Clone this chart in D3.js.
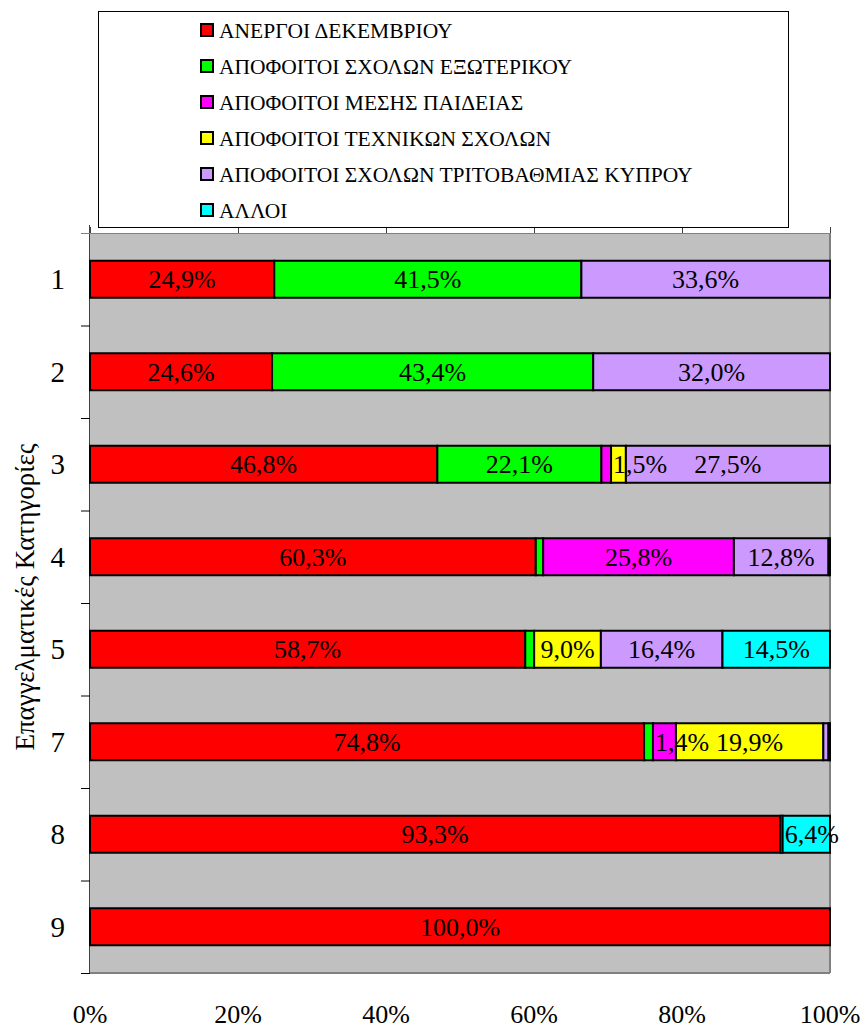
<!DOCTYPE html>
<html>
<head>
<meta charset="utf-8">
<script src="https://cdn.jsdelivr.net/npm/d3@7"></script>
<style>
  body { margin: 0; background: #fff; }
  text { font-family: "Liberation Serif", "Times New Roman", serif; fill: #000; }
</style>
</head>
<body>
<div id="chart"></div>
<script>
// categories (occupational groups) and series values, percent of row
var categories = ["1", "2", "3", "4", "5", "7", "8", "9"];
var seriesNames = [
  "ΑΝΕΡΓΟΙ ΔΕΚΕΜΒΡΙΟΥ",
  "ΑΠΟΦΟΙΤΟΙ ΣΧΟΛΩΝ ΕΞΩΤΕΡΙΚΟΥ",
  "ΑΠΟΦΟΙΤΟΙ ΜΕΣΗΣ ΠΑΙΔΕΙΑΣ",
  "ΑΠΟΦΟΙΤΟΙ ΤΕΧΝΙΚΩΝ ΣΧΟΛΩΝ",
  "ΑΠΟΦΟΙΤΟΙ ΣΧΟΛΩΝ ΤΡΙΤΟΒΑΘΜΙΑΣ ΚΥΠΡΟΥ",
  "ΑΛΛΟΙ"
];
var seriesColors = ["#FF0000", "#00FF00", "#FF00FF", "#FFFF00", "#CC99FF", "#00FFFF"];

var anergoi       = [24.9, 24.6, 46.8, 60.3, 58.7, 74.8, 93.3, 100.0];
var exoterikou    = [41.5, 43.4, 22.1, 1.0, 1.2, 1.2, 0, 0];
var mesis         = [0, 0, 1.3, 25.8, 0, 3.1, 0, 0];
var texnikon      = [0, 0, 2.0, 0, 9.0, 19.9, 0, 0];
var tritovathmias = [33.6, 32.0, 27.5, 12.8, 16.4, 0.7, 0.3, 0];
var alloi         = [0, 0, 0, 0.2, 14.5, 0.2, 6.4, 0];

// data labels as printed on the bars ("" = no label)
var labelsAnergoi       = ["24,9%", "24,6%", "46,8%", "60,3%", "58,7%", "74,8%", "93,3%", "100,0%"];
var labelsExoterikou    = ["41,5%", "43,4%", "22,1%", "", "", "", "", ""];
var labelsMesis         = ["", "", "", "25,8%", "", "1,4%", "", ""];
var labelsTexnikon      = ["", "", "1,5%", "", "9,0%", "19,9%", "", ""];
var labelsTritovathmias = ["33,6%", "32,0%", "27,5%", "12,8%", "16,4%", "", "", ""];
var labelsAlloi         = ["", "", "", "", "14,5%", "", "6,4%", ""];

var xTicks = [0, 20, 40, 60, 80, 100];

var allSeries = [anergoi, exoterikou, mesis, texnikon, tritovathmias, alloi];
var allLabels = [labelsAnergoi, labelsExoterikou, labelsMesis, labelsTexnikon, labelsTritovathmias, labelsAlloi];

var svgWidth = 866;
var svgHeight = 1030;
var margin = { top: 233, right: 36, bottom: 57, left: 90 };
var chartWidth = svgWidth - margin.left - margin.right;   // 740
var chartHeight = svgHeight - margin.top - margin.bottom; // 740

var svg = d3.select("#chart")
  .append("svg")
  .attr("width", svgWidth)
  .attr("height", svgHeight);

// build the stacked rows, normalised to 100%
var rows = categories.map(function(cat, i) {
  var total = d3.sum(allSeries, s => s[i]);
  var acc = 0;
  var segs = [];
  allSeries.forEach(function(s, j) {
    var v = s[i] / total * 100;
    segs.push({ series: j, x0: acc, x1: acc + v, value: s[i], label: allLabels[j][i] });
    acc += v;
  });
  return { cat: cat, segs: segs };
});

var x = d3.scaleLinear().domain([0, 100]).range([0, chartWidth]);
var y = d3.scaleBand().domain(categories).range([0, chartHeight]).paddingInner(0.6).paddingOuter(0.3);
var yBand = d3.scaleBand().domain(categories).range([0, chartHeight]);

var chartGroup = svg.append("g")
  .attr("transform", `translate(${margin.left}, ${margin.top})`);

// plot area
chartGroup.append("rect")
  .attr("x", 0).attr("y", 0)
  .attr("width", chartWidth).attr("height", chartHeight)
  .attr("fill", "#C0C0C0");

chartGroup.append("line")
  .attr("x1", chartWidth).attr("x2", chartWidth)
  .attr("y1", 0).attr("y2", chartHeight)
  .attr("stroke", "#808080").attr("stroke-width", 2);
chartGroup.append("line")
  .attr("x1", 0).attr("x2", chartWidth)
  .attr("y1", chartHeight).attr("y2", chartHeight)
  .attr("stroke", "#808080").attr("stroke-width", 2);

// top axis (ticks only)
var topAxis = chartGroup.append("g")
  .call(d3.axisTop(x).tickValues(xTicks).tickSize(6).tickFormat(""));
topAxis.select(".domain").attr("stroke", "#808080");
topAxis.selectAll(".tick line").attr("stroke", "#404040");

// left axis: ticks at category boundaries
var boundaries = categories.map(c => yBand(c)).concat([chartHeight]);
var leftAxis = chartGroup.append("g");
leftAxis.append("line")
  .attr("x1", -0.5).attr("x2", -0.5)
  .attr("y1", -8).attr("y2", chartHeight)
  .attr("stroke", "#404040");
leftAxis.selectAll(".ytick")
  .data(boundaries)
  .enter()
  .append("line")
  .attr("x1", -9).attr("x2", 0)
  .attr("y1", d => d + 0.5).attr("y2", d => d + 0.5)
  .attr("stroke", d => d === 0 ? "#808080" : "#000");

// category labels
chartGroup.selectAll(".catLabel")
  .data(categories)
  .enter()
  .append("text")
  .attr("x", -25)
  .attr("y", d => yBand(d) + yBand.bandwidth() / 2 + 10)
  .attr("text-anchor", "end")
  .attr("font-size", 29)
  .text(d => d);

// bars
var rowGroups = chartGroup.selectAll(".row")
  .data(rows)
  .enter()
  .append("g")
  .attr("transform", d => `translate(0, ${y(d.cat)})`);

rowGroups.selectAll("rect")
  .data(d => d.segs.filter(s => s.value > 0))
  .enter()
  .append("rect")
  .attr("x", d => x(d.x0))
  .attr("y", 0)
  .attr("width", d => x(d.x1) - x(d.x0))
  .attr("height", y.bandwidth())
  .attr("fill", d => seriesColors[d.series])
  .attr("stroke", "#000")
  .attr("stroke-width", 2);

// labels: centred, but start-aligned when wider than their segment
rowGroups.selectAll("text")
  .data(d => d.segs.filter(s => s.label !== ""))
  .enter()
  .append("text")
  .attr("y", y.bandwidth() / 2 + 9)
  .attr("font-size", 26)
  .text(d => d.label)
  .each(function(d) {
    var w = this.getComputedTextLength();
    var segW = x(d.x1) - x(d.x0);
    if (w > segW) {
      d3.select(this).attr("x", x(d.x0) + 2).attr("text-anchor", "start");
    } else {
      d3.select(this).attr("x", x((d.x0 + d.x1) / 2)).attr("text-anchor", "middle");
    }
  });

// bottom tick labels
chartGroup.selectAll(".xLabel")
  .data(xTicks)
  .enter()
  .append("text")
  .attr("x", d => x(d))
  .attr("y", chartHeight + 50)
  .attr("text-anchor", "middle")
  .attr("font-size", 26)
  .text(d => d + "%");

// y axis title
svg.append("text")
  .attr("transform", `translate(34, ${margin.top + chartHeight / 2 - 6}) rotate(-90)`)
  .attr("text-anchor", "middle")
  .attr("font-size", 27)
  .text("Επαγγελματικές Κατηγορίες");

// legend
var legend = svg.append("g");
legend.append("rect")
  .attr("x", 98.5).attr("y", 11.5)
  .attr("width", 690).attr("height", 216)
  .attr("fill", "#fff")
  .attr("stroke", "#000");

var items = legend.selectAll(".item")
  .data(seriesNames)
  .enter()
  .append("g")
  .attr("transform", (d, i) => `translate(200, ${30 + i * 36})`);

items.append("rect")
  .attr("x", 1).attr("y", -6)
  .attr("width", 12).attr("height", 12)
  .attr("fill", (d, i) => seriesColors[i])
  .attr("stroke", "#000")
  .attr("stroke-width", 2);

items.append("text")
  .attr("x", 19)
  .attr("y", 7.5)
  .attr("font-size", 21.5)
  .text(d => d);
</script>
</body>
</html>
